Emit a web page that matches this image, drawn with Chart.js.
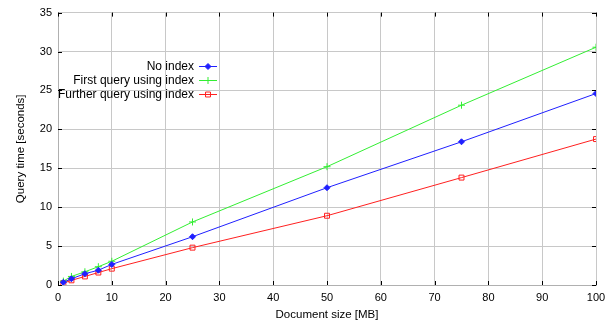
<!DOCTYPE html>
<html>
<head>
<meta charset="utf-8">
<script src="https://cdn.jsdelivr.net/npm/chart.js@4"></script>
<style>
  html, body { margin: 0; padding: 0; background: #fff; }
  #wrap { width: 605px; height: 322px; }
</style>
</head>
<body>
<div id="wrap"><canvas id="chart" width="605" height="322"></canvas></div>
<script>
// Document sizes in MB
const sizes = [1, 2.5, 5, 7.5, 10, 25, 50, 75, 100];
// Query times in seconds
const noIndex = [0.35, 0.8, 1.45, 1.9, 2.65, 6.2, 12.5, 18.4, 24.6];
const firstQuery = [0.5, 1.1, 1.7, 2.35, 3.05, 8.1, 15.2, 23.1, 30.55];
const furtherQuery = [0.25, 0.6, 1.1, 1.6, 2.1, 4.8, 8.9, 13.8, 18.75];
const xTicks = [0, 10, 20, 30, 40, 50, 60, 70, 80, 90, 100];
const yTicks = [0, 5, 10, 15, 20, 25, 30, 35];

const FONT = 'Liberation Sans, Arial, sans-serif';

function pts(ys) {
  return sizes.map((x, i) => ({ x: x, y: ys[i] }));
}

// gnuplot style: inner tick marks on all four sides + legend inside plot
const gnuplotBits = {
  id: 'gnuplotBits',
  afterDraw(chart) {
    const ctx = chart.ctx;
    const a = chart.chartArea;
    const xs = chart.scales.x, ys = chart.scales.y;
    ctx.save();
    ctx.strokeStyle = '#000';
    ctx.lineWidth = 1;
    ctx.beginPath();
    xTicks.forEach(v => {
      const px = Math.round(xs.getPixelForValue(v)) + 0.5;
      ctx.moveTo(px, a.bottom); ctx.lineTo(px, a.bottom - 4);
      ctx.moveTo(px, a.top); ctx.lineTo(px, a.top + 4);
    });
    yTicks.forEach(v => {
      const py = Math.round(ys.getPixelForValue(v)) + 0.5;
      ctx.moveTo(a.left, py); ctx.lineTo(a.left + 4, py);
      ctx.moveTo(a.right, py); ctx.lineTo(a.right - 4, py);
    });
    ctx.stroke();

    // legend
    ctx.font = '12px ' + FONT;
    ctx.textAlign = 'right';
    ctx.textBaseline = 'middle';
    chart.data.datasets.forEach((ds, i) => {
      const y = 66.5 + i * 14;
      ctx.fillStyle = '#000';
      ctx.fillText(ds.label, 194, y);
      ctx.strokeStyle = ds.borderColor;
      ctx.fillStyle = ds.backgroundColor;
      ctx.lineWidth = 1;
      ctx.beginPath();
      ctx.moveTo(199, y); ctx.lineTo(217, y);
      ctx.stroke();
      Chart.helpers.drawPoint(ctx, {
        pointStyle: ds.pointStyle, radius: ds.pointRadius, borderWidth: 1
      }, 208, y);
    });
    ctx.restore();
  }
};

new Chart(document.getElementById('chart'), {
  type: 'line',
  data: {
    datasets: [
      {
        label: 'No index', data: pts(noIndex),
        borderColor: '#2020ff', backgroundColor: '#2020ff',
        borderWidth: 1, pointStyle: 'rectRot', pointRadius: 3
      },
      {
        label: 'First query using index', data: pts(firstQuery),
        borderColor: '#33ee33', backgroundColor: '#33ee33',
        borderWidth: 1, pointStyle: 'cross', pointRadius: 3.5
      },
      {
        label: 'Further query using index', data: pts(furtherQuery),
        borderColor: '#ff2020', backgroundColor: 'rgba(0,0,0,0)',
        borderWidth: 1, pointStyle: 'rect', pointRadius: 3.5
      }
    ]
  },
  options: {
    responsive: false,
    animation: false,
    layout: { padding: { top: 12, right: 9, left: 0, bottom: 0 } },
    plugins: { legend: { display: false }, tooltip: { enabled: false } },
    elements: { line: { tension: 0 }, point: { borderWidth: 1 } },
    scales: {
      x: {
        type: 'linear', min: 0, max: 100,
        afterBuildTicks: s => { s.ticks = xTicks.map(v => ({ value: v })); },
        afterFit: s => { s.height = 37; s.paddingLeft = 0; s.paddingRight = 0; },
        grid: { color: '#c8c8c8', lineWidth: 1, drawTicks: false },
        border: { color: '#b0b0b0' },
        ticks: { color: '#000', font: { family: FONT, size: 11 }, padding: 6, maxRotation: 0 },
        title: {
          display: true, text: 'Document size [MB]', color: '#000',
          font: { family: FONT, size: 11.5 }, padding: { top: 0, bottom: 0 }
        }
      },
      y: {
        type: 'linear', min: 0, max: 35,
        afterBuildTicks: s => { s.ticks = yTicks.map(v => ({ value: v })); },
        afterFit: s => { s.width = 58; },
        grid: { color: '#c8c8c8', lineWidth: 1, drawTicks: false },
        border: { color: '#b0b0b0' },
        ticks: { color: '#000', font: { family: FONT, size: 11 }, padding: 6 },
        title: {
          display: true, text: 'Query time [seconds]', color: '#000',
          font: { family: FONT, size: 11.5 }, padding: { top: 14, bottom: 0 }
        }
      }
    }
  },
  plugins: [gnuplotBits]
});
</script>
</body>
</html>
